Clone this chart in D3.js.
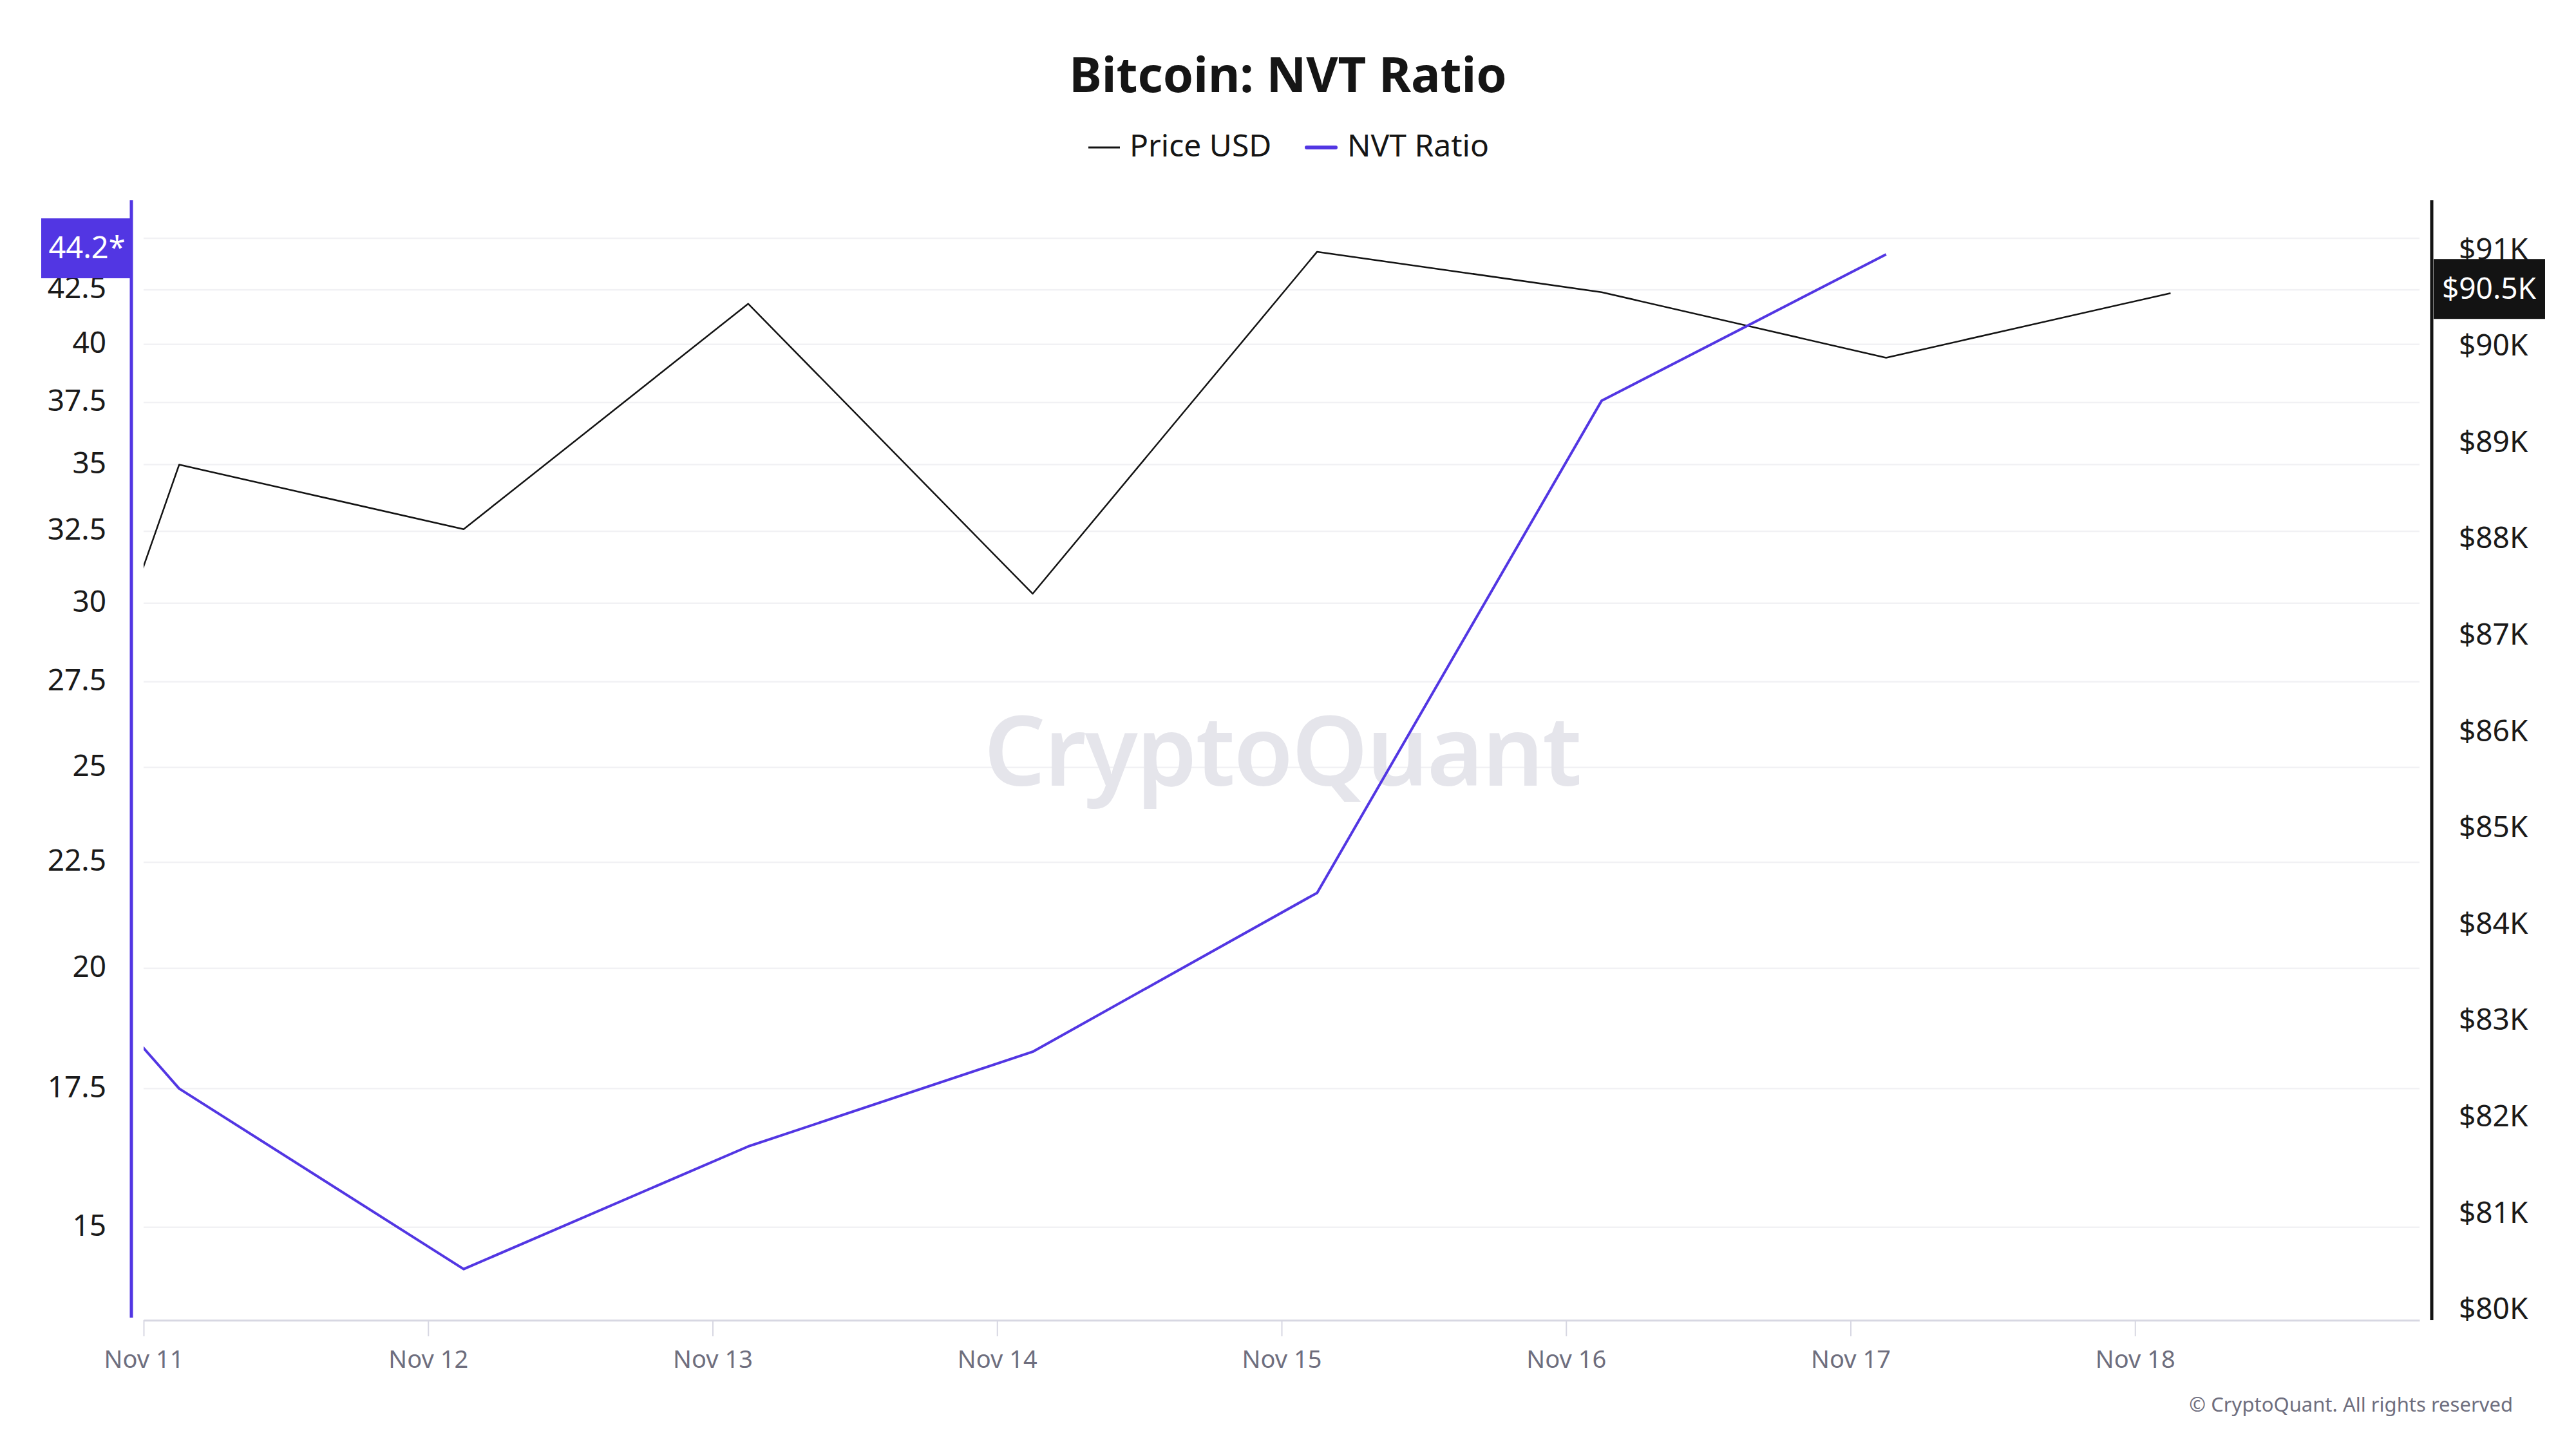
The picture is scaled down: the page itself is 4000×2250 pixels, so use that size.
<!DOCTYPE html>
<html>
<head>
<meta charset="utf-8">
<script src="https://cdn.jsdelivr.net/npm/d3@7/dist/d3.min.js"></script>
<style>
  html, body { margin: 0; padding: 0; background: #ffffff; }
  svg { display: block; font-family: "Noto Sans", "Open Sans", sans-serif; }
</style>
</head>
<body>
<svg id="chart" width="4000" height="2250"></svg>
<script>
// ---- data ----
const dates = ["2024-11-10T03:00Z", "2024-11-11T03:00Z", "2024-11-12T03:00Z", "2024-11-13T03:00Z",
               "2024-11-14T03:00Z", "2024-11-15T03:00Z", "2024-11-16T03:00Z", "2024-11-17T03:00Z",
               "2024-11-18T03:00Z"];
const priceUSD = [80330, 88760, 88090, 90430, 87420, 90970, 90550, 89870, 90540];
const nvtRatio = [25.07, 17.50, 14.32, 16.41, 18.23, 21.75, 37.57, 44.2, null];
const gridTicks = [15, 17.5, 20, 22.5, 25, 27.5, 30, 32.5, 35, 37.5, 40, 42.5, 45];
const leftTicks = [15, 17.5, 20, 22.5, 25, 27.5, 30, 32.5, 35, 37.5, 40, 42.5];
const rightTicks = [80000, 81000, 82000, 83000, 84000, 85000, 86000, 87000, 88000, 89000, 90000, 91000];
const xTicks = ["2024-11-11", "2024-11-12", "2024-11-13", "2024-11-14", "2024-11-15", "2024-11-16", "2024-11-17", "2024-11-18"];
const xDomain = ["2024-11-11T00:00Z", "2024-11-19T00:00Z"];
const leftDomain = [13.53, 46.94];
const rightDomain = [79880, 91504];
const titleText = "Bitcoin: NVT Ratio";
const seriesNames = ["Price USD", "NVT Ratio"];
const lastNvtLabel = "44.2*";
const lastPriceLabel = "$90.5K";

// ---- layout ----
const W = 4000, H = 2250;
const plot = { left: 223, right: 3757, top: 311, bottom: 2050 };
const purple = "#5236e3";
const dark = "#131313";

const svg = d3.select("#chart");
svg.append("rect").attr("width", W).attr("height", H).attr("fill", "#fff");

const x = d3.scaleUtc().domain(xDomain.map(d => new Date(d))).range([plot.left, plot.right]);
const yL = d3.scaleLog().domain(leftDomain).range([plot.bottom, plot.top]);
const yR = d3.scaleLinear().domain(rightDomain).range([plot.bottom, plot.top]);

const pts = dates.map((d, i) => ({ t: new Date(d), p: priceUSD[i], n: nvtRatio[i] }));

// gridlines (left axis ticks)
svg.append("g").selectAll("line").data(gridTicks).join("line")
  .attr("x1", plot.left).attr("x2", plot.right)
  .attr("y1", d => yL(d)).attr("y2", d => yL(d))
  .attr("stroke", "#f1f1f4").attr("stroke-width", 2.5);

// watermark
svg.append("text")
  .attr("x", 1991).attr("y", 1220)
  .attr("text-anchor", "middle")
  .attr("font-size", 150).attr("font-weight", 600)
  .attr("fill", "#e5e5eb")
  .attr("letter-spacing", -2)
  .text("CryptoQuant");

// x axis
const xAxisG = svg.append("g").attr("transform", `translate(0,${plot.bottom})`)
  .call(d3.axisBottom(x)
    .tickValues(xTicks.map(d => new Date(d + "T00:00Z")))
    .tickFormat(d3.utcFormat("%b %-d"))
    .tickSizeInner(25).tickSizeOuter(0).tickPadding(22));
xAxisG.select(".domain").attr("stroke", "#d7d7e2").attr("stroke-width", 3);
xAxisG.selectAll(".tick line").attr("stroke", "#d7d7e2").attr("stroke-width", 2);
xAxisG.selectAll(".tick text").attr("fill", "#6e6e7e").attr("font-size", 38)
  .attr("font-family", "'Noto Sans', sans-serif");

// left axis
const leftG = svg.append("g").attr("transform", `translate(204,0)`)
  .call(d3.axisLeft(yL).tickValues(leftTicks).tickFormat(d3.format("~g")).tickSize(0).tickPadding(39));
leftG.select(".domain").attr("stroke", purple).attr("stroke-width", 5)
  .attr("d", `M0,${plot.top}V${plot.bottom - 4}`);
leftG.selectAll(".tick text").attr("fill", "#1a1a1a").attr("font-size", 46)
  .attr("font-family", "'Noto Sans', sans-serif").attr("dy", "0.28em");

// right axis
const rightG = svg.append("g").attr("transform", `translate(3776,0)`)
  .call(d3.axisRight(yR).tickValues(rightTicks).tickFormat(d => "$" + (d / 1000) + "K").tickSize(0).tickPadding(42));
rightG.select(".domain").attr("stroke", dark).attr("stroke-width", 5)
  .attr("d", `M0,${plot.top}V${plot.bottom}`);
rightG.selectAll(".tick text").attr("fill", "#1a1a1a").attr("font-size", 46)
  .attr("font-family", "'Noto Sans', sans-serif").attr("dy", "0.34em");

// clip
svg.append("clipPath").attr("id", "clip").append("rect")
  .attr("x", plot.left).attr("y", plot.top - 10)
  .attr("width", plot.right - plot.left).attr("height", plot.bottom - plot.top + 10);

const gLines = svg.append("g").attr("clip-path", "url(#clip)");
gLines.append("path").datum(pts)
  .attr("fill", "none").attr("stroke", dark).attr("stroke-width", 2.5)
  .attr("stroke-linejoin", "round")
  .attr("d", d3.line().x(d => x(d.t)).y(d => yR(d.p)));
gLines.append("path").datum(pts.filter(d => d.n != null))
  .attr("fill", "none").attr("stroke", purple).attr("stroke-width", 4)
  .attr("stroke-linejoin", "round")
  .attr("d", d3.line().x(d => x(d.t)).y(d => yL(d.n)));

// title
svg.append("text").attr("x", 2000).attr("y", 143).attr("text-anchor", "middle")
  .attr("font-size", 76).attr("font-weight", 700).attr("fill", "#151515")
  .text(titleText);

// legend
const leg = svg.append("g");
leg.append("line").attr("x1", 1690).attr("x2", 1739).attr("y1", 229).attr("y2", 229)
  .attr("stroke", dark).attr("stroke-width", 3);
leg.append("text").attr("x", 1754).attr("y", 243).attr("font-size", 48).attr("fill", "#151515")
  .text(seriesNames[0]);
leg.append("line").attr("x1", 2029).attr("x2", 2074).attr("y1", 229).attr("y2", 229)
  .attr("stroke", purple).attr("stroke-width", 6).attr("stroke-linecap", "round");
leg.append("text").attr("x", 2092).attr("y", 243).attr("font-size", 48).attr("fill", "#151515")
  .text(seriesNames[1]);

// last-value badges
const lastN = pts.filter(d => d.n != null).slice(-1)[0];
const lastP = pts.slice(-1)[0];
const bl = svg.append("g").attr("transform", `translate(0,${yL(lastN.n) - 10})`);
bl.append("rect").attr("x", 64).attr("y", -46).attr("width", 139).attr("height", 93).attr("fill", purple);
bl.append("text").attr("x", 135).attr("y", 16).attr("text-anchor", "middle")
  .attr("font-size", 47).attr("fill", "#fff").text(lastNvtLabel);

const br = svg.append("g").attr("transform", `translate(0,${yR(lastP.p) - 7})`);
br.append("rect").attr("x", 3779).attr("y", -46).attr("width", 173).attr("height", 93).attr("fill", dark);
br.append("text").attr("x", 3865).attr("y", 16).attr("text-anchor", "middle")
  .attr("font-size", 46).attr("fill", "#fff").text(lastPriceLabel);

// footer
svg.append("text").attr("x", 3902).attr("y", 2192).attr("text-anchor", "end")
  .attr("font-size", 31).attr("fill", "#6e6e7e")
  .text("© CryptoQuant. All rights reserved");
</script>
</body>
</html>
